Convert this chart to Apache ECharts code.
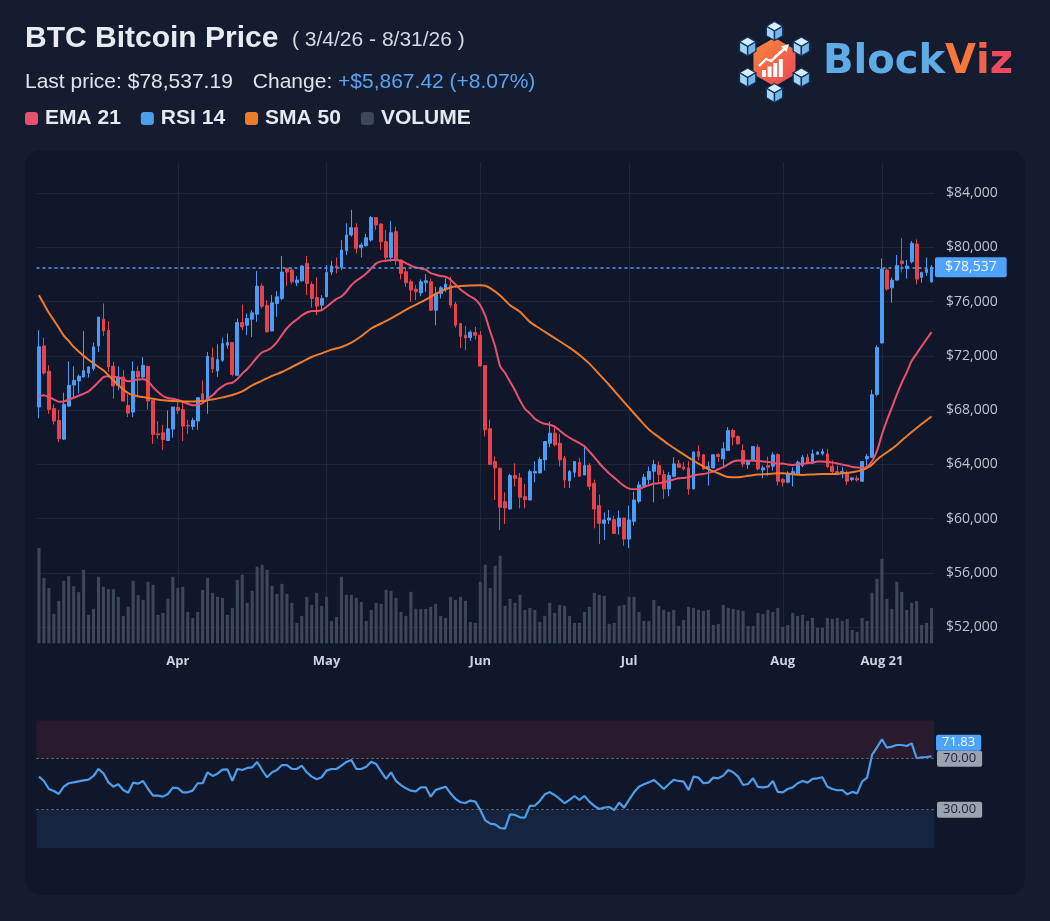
<!DOCTYPE html>
<html>
<head>
<meta charset="utf-8">
<script src="https://cdn.jsdelivr.net/npm/echarts@6/dist/echarts.min.js"></script>
<style>
html,body{margin:0;padding:0;background:#151c2f;}
#c{width:1050px;height:921px;}
</style>
</head>
<body>
<div id="c"></div>
<script>
// ---------- DATA ----------
const categories = [];
for (let i = 0; i < 181; i++) {
  const d = new Date(Date.UTC(2026, 2, 4 + i));
  categories.push(d.toISOString().slice(0, 10));
}
const tickIdx = [28, 58, 89, 119, 150, 170];
const tickText = ['Apr', 'May', 'Jun', 'Jul', 'Aug', 'Aug 21'];

const opens = [
68224,72735,70862,68125,67238,65858,68298,69851,70147,70442,
70738,71059,72735,74707,73894,71231,69826,70442,68347,67854,
70862,70442,71231,68717,66252,66326,65759,66597,68199,68052,
66880,66794,67189,69210,68717,71872,70886,71675,72784,72981,
70566,74460,74263,74707,75077,77147,75742,73844,75866,76235,
78429,78331,77394,77542,78824,77271,76309,75742,76358,78183,
78626,78528,79760,80919,81461,79982,80130,80549,82201,81732,
80426,79267,81165,79070,78207,77468,76926,76654,77394,77468,
75373,76605,76901,77221,75816,74387,73524,73351,73721,73524,
71281,66622,64206,63713,61248,60706,63171,62998,61618,61371,
63368,63368,64329,65562,66301,65562,64452,62801,63418,64132,
63220,63910,62604,60953,59646,59892,59917,59424,60040,58487,
59794,61273,62431,62875,63491,63910,63244,62184,63121,64033,
63787,63737,62184,64945,64699,63713,63737,64724,64403,65019,
66498,66055,65019,63984,64280,65266,63589,63910,63861,64724,
62875,62678,63294,63294,63910,64527,64082,64748,64773,64773,
63861,63467,63343,63368,62875,62973,62752,64403,64527,69161,
72957,78331,77024,77591,78996,78454,78947,80253,77788,78158,
77468];
const closes = [
72669.77,70738,68052,67189,65882,68421,69826,70196,70492,70911,
71182,72661,74855,73844,71182,69777,70442,68667,67780,70862,
70442,71305,68667,66203,66178,65833,66622,68224,67978,66819,
66830,67238,68914,68717,71971,71059,71724,72907,72981,70639,
74460,74140,74756,75175,77147,75668,73770,75915,76358,78183,
78183,77468,77591,78626,77345,76235,75668,76235,78158,78626,
78503,79810,80919,81461,79933,80179,80722,82201,81658,80426,
79267,81091,79070,78084,77394,76852,76728,77468,77542,75373,
76605,77024,77295,75742,74263,73450,73327,73746,73524,71256,
66548,63984,63737,60829,60780,63171,62973,61569,61396,63467,
63467,64354,65685,66301,65439,64329,62850,63467,64206,63121,
63910,62382,60706,59646,59892,60040,58906,60040,58487,59892,
61371,62480,63047,63467,63984,63244,62184,63171,64033,63787,
63664,62184,64896,64576,63664,63836,64699,64576,65143,66498,
66006,65513,64033,64280,65315,63664,63737,63787,64699,62752,
62678,63343,63467,64157,64527,64107,64773,64896,64945,63836,
63467,63294,63467,62752,62998,62850,64206,64576,69136,72612,
78404,76926,77591,78676,78824,78626,80303,77665,78158,78404,
78537.19];
const lows = [
67410,70615,67731,66942,65636,65800,68224,68963,69210,70400,
70393,70886,72291,73474,70812,68840,69457,68620,67484,67484,
69038,70319,68052,65513,65882,65069,65720,65956,67731,65710,
66252,66548,66548,68593,67731,70738,70442,71552,72538,70492,
70540,73894,73524,73401,74510,75496,73740,73810,74879,76112,
77147,77295,77147,77468,76482,75570,75003,75323,76309,77961,
78084,78331,79440,80796,79563,79267,80056,80426,81289,79810,
78947,78947,78700,77641,77098,75989,76112,76408,76728,75323,
74263,76235,76728,75545,74091,72587,72415,73105,73203,71230,
66055,63960,61371,59153,59597,60680,62357,60755,60755,61350,
62678,63343,63540,65266,65315,63836,62258,62258,63047,63100,
63200,62110,59276,58117,58413,59597,58880,58808,57994,57822,
59473,61124,62357,62505,61199,62678,61445,61643,63047,63737,
63540,61766,62160,64280,63589,62431,63664,64157,63737,65000,
65389,65463,63787,63664,64231,63540,62973,63121,63540,62431,
62357,62604,62357,63171,63787,64033,64033,64724,64650,63737,
63294,63171,62973,62480,62752,62727,62730,63910,64478,69013,
72907,76802,75915,77570,78158,77714,78824,77271,77394,77912,
77394];
const highs = [
73894,73351,71305,68421,68027,69284,71601,71231,70615,73820,
71231,72981,74900,75866,74559,71552,71231,70935,69161,71601,
71231,71897,71260,68740,67189,66917,67978,68250,68593,68593,
67288,67435,68960,70196,72291,72612,72858,73351,73647,73010,
74756,75792,75126,75373,78257,77345,76112,76482,76777,79366,
78528,78528,77887,78700,79366,77468,77789,76482,78700,79021,
79267,80549,81781,82768,81781,80352,80993,82324,82230,81760,
81289,81954,81535,79100,78528,77641,77221,77641,78035,77714,
77098,77147,77714,77838,75989,74410,74189,73894,74140,73820,
71300,67288,64576,63740,61938,63294,64082,63368,62554,63614,
64206,64527,65700,67164,66868,66252,64625,63589,64230,64452,
65389,64082,62875,61766,60460,60632,60213,60582,60060,60953,
61988,62727,63294,63836,64329,64206,63589,63417,64527,64329,
64157,64231,64970,65389,64773,64206,64773,64822,65636,66745,
66622,66129,65463,64329,65340,65463,63910,64576,64896,64822,
62998,63491,63787,64280,64699,64773,65069,64970,65143,65143,
64280,63910,63787,63540,63047,63171,64231,64773,69506,72784,
79193,78454,77789,79440,80672,79070,80475,80598,78207,79267,
78700];
// volume, thousand BTC
const volumes = [
28.5,19.5,16.5,8.8,12.7,18.7,20.1,17.1,15.3,22.0,
8.5,10.3,19.9,16.9,16.2,16.2,13.9,8.2,10.9,18.7,
14.4,13.0,18.4,17.5,8.5,9.1,13.3,19.9,16.6,16.9,
9.4,7.6,9.4,16.0,19.6,15.1,13.9,13.6,8.5,10.6,
19.0,20.5,12.1,15.7,22.9,23.5,22.0,17.2,14.8,17.8,
14.8,12.1,6.1,8.2,13.9,11.5,15.1,11.2,13.9,6.7,
7.9,19.9,14.5,14.5,13.6,12.4,6.7,10.0,12.1,11.8,
16.0,15.7,13.6,9.4,8.2,15.4,10.3,10.3,10.3,10.9,
11.8,8.2,7.6,13.9,13.0,13.9,12.7,6.4,6.1,18.4,
23.5,16.6,23.2,26.2,11.2,13.3,12.1,14.5,10.0,10.6,
10.0,6.4,8.2,12.1,9.1,11.5,11.2,8.2,6.1,6.1,
9.4,10.9,15.1,14.5,14.2,5.8,6.1,11.2,11.5,13.9,
13.9,9.4,6.7,6.7,13.0,11.2,10.0,9.4,10.0,5.2,
7.0,10.9,10.6,10.0,9.7,10.0,5.5,5.8,11.5,10.6,
10.3,10.0,9.7,5.2,5.2,9.1,8.8,10.0,9.4,10.6,
4.9,5.5,9.1,8.2,8.5,6.7,7.6,4.6,4.6,7.6,
7.3,7.6,6.7,7.3,4.0,3.4,7.6,6.7,15.1,19.3,
25.3,13.3,10.3,18.4,15.4,10.0,12.1,12.7,5.5,6.1,
10.6];
const ema21 = [
69010,69090,68960,68790,68620,68640,68770,68910,69060,69210,
69380,69700,70070,70440,70490,70440,70420,70270,70120,70200,
70250,70270,70120,69700,69330,69040,68890,68840,68740,68620,
68470,68350,68400,68520,68820,69090,69460,69750,69950,70020,
70300,70690,71030,71450,71900,72270,72410,72640,73010,73550,
74040,74410,74680,74980,75200,75320,75320,75370,75620,75920,
76210,76380,76750,77220,77540,77790,78080,78450,78820,78970,
79020,79070,79070,79000,78850,78650,78530,78450,78360,78110,
77990,77890,77840,77620,77270,76900,76630,76380,76160,75740,
74950,73800,72700,71230,70740,70100,69460,68720,68100,67760,
67360,67140,66990,66920,66790,66500,66200,65960,65760,65560,
65340,64950,64530,64080,63690,63320,63020,62700,62410,62210,
62160,62190,62330,62460,62580,62600,62680,62780,62880,62970,
63000,63050,63170,63250,63290,63370,63470,63640,63790,64010,
64210,64280,64280,64260,64260,64230,64210,64180,64130,64030,
64060,63980,63960,63980,64030,64080,64130,64210,64210,64180,
64130,64060,63980,63910,63810,63760,63740,63840,64230,64970,
66200,67240,68180,69140,70020,70790,71630,72170,72710,73230,
73750];
// [day index, value]
const sma50 = [
[0,76480],[1,75820],[2,75180],[3,74630],[4,74070],[5,73500],[6,73110],[7,72660],[8,72320],[9,72000],
[10,71720],[11,71450],[12,71180],[13,70940],[14,70570],[15,70200],[16,69850],[17,69510],[18,69260],[19,69090],
[21,68960],[23,68840],[25,68720],[27,68670],[29,68640],[31,68640],[33,68670],[35,68790],[37,68940],[39,69110],
[41,69380],[43,69830],[45,70170],[47,70520],[49,70810],[51,71180],[53,71550],[55,71920],[57,72190],[59,72460],
[61,72660],[63,72980],[65,73450],[67,74020],[69,74390],[71,74760],[73,75180],[75,75590],[77,75960],[79,76360],
[81,76750],[83,77050],[85,77150],[87,77200],[89,77220],[90,77170],[91,77000],[93,76460],[95,75740],[97,75250],
[99,74510],[101,74020],[103,73550],[105,73080],[107,72610],[109,72070],[111,71430],[113,70640],[115,69850],[117,69010],
[119,68180],[121,67360],[123,66570],[125,66010],[127,65460],[129,64970],[131,64500],[133,64060],[135,63640],[137,63340],
[139,63070],[141,63050],[143,63150],[145,63250],[147,63290],[149,63340],[150,63340],[152,63270],[154,63220],[156,63250],
[158,63290],[160,63290],[162,63340],[164,63420],[166,63570],[167,63740],[168,63980],[169,64330],[170,64630],[172,65140],
[174,65760],[176,66380],[178,66970],[180,67530]];
const rsi14 = [
55.9,52.5,46.2,44.6,42.3,48.0,50.7,51.4,52.2,53.0,
53.5,56.4,61.9,58.5,51.4,48.0,49.9,45.4,43.3,51.2,
50.4,52.5,46.2,41.0,41.0,40.2,42.3,47.3,47.0,43.6,
43.6,44.9,50.7,50.7,59.3,56.4,58.2,61.4,61.6,52.7,
61.9,61.1,62.7,63.2,67.4,61.1,55.4,59.3,61.1,65.0,
65.0,61.9,61.9,64.5,59.3,55.9,53.8,55.4,60.6,61.9,
61.9,64.5,67.4,69.0,61.9,61.9,63.7,67.6,65.8,59.8,
54.1,59.3,52.5,49.3,46.7,44.9,44.4,47.5,47.5,40.2,
45.4,46.7,48.0,42.8,38.4,35.8,35.2,37.1,36.3,29.7,
21.6,19.0,18.4,15.6,15.1,26.3,25.8,24.0,23.7,32.9,
33.1,36.8,42.0,43.6,41.5,38.4,35.0,37.6,40.7,37.6,
40.7,36.3,32.9,30.5,31.6,32.1,29.7,35.5,31.6,37.6,
43.6,48.0,49.9,51.4,53.3,49.9,46.2,49.9,53.3,52.5,
52.0,45.4,55.9,55.1,50.7,51.2,55.1,54.6,56.7,61.1,
59.3,55.9,49.3,50.1,54.6,47.8,47.5,48.0,52.5,43.9,
43.6,46.2,47.5,50.7,52.5,51.2,54.1,54.6,55.4,48.0,
46.2,45.2,45.4,42.0,43.9,42.8,52.0,55.1,72.9,78.9,
85.2,78.6,79.4,80.7,80.7,79.9,82.0,70.3,71.0,71.3,
71.83];
const rsiLevels = [70, 30];

// ---------- derived texts ----------
const n = closes.length;
const lastPrice = closes[n - 1];
const change = lastPrice - closes[0];
const pct = change / closes[0] * 100;
const money = (v, d) => '$' + v.toLocaleString('en-US', {minimumFractionDigits: d, maximumFractionDigits: d});
const shortDate = s => { const p = s.split('-'); return (+p[1]) + '/' + (+p[2]) + '/' + p[0].slice(2); };
const rangeText = '( ' + shortDate(categories[0]) + ' - ' + shortDate(categories[n - 1]) + ' )';
const changeText = (change >= 0 ? '+' : '-') + money(Math.abs(change), 2) + ' (' + (pct >= 0 ? '+' : '') + pct.toFixed(2) + '%)';
const lastRsi = rsi14[rsi14.length - 1];

const candleData = opens.map((o, i) => [o, closes[i], lows[i], highs[i]]);

const FONT = "'Liberation Sans', Arial, Helvetica, sans-serif";
const AX = "'Open Sans', 'Noto Sans', sans-serif";
const GRID_C = '#1e2638';
const UP = '#4a9df6', DOWN = '#e8434b';
const EMA_C = '#e9506d', SMA_C = '#ef7b2d', RSI_C = '#4d9de9', VOL_C = '#3d475a';
const PRICE_C = '#4da3ff';

// ---------- logo helpers (decoration) ----------
function cube(cx, cy, r) {
  const s = 0.866 * r, h = 0.5 * r;
  const T = [cx, cy - r], UR = [cx + s, cy - h], LR = [cx + s, cy + h], B = [cx, cy + r],
        LL = [cx - s, cy + h], UL = [cx - s, cy - h], C = [cx, cy];
  const st = {stroke: '#12335a', lineWidth: 1.4, lineJoin: 'round'};
  return [
    {type: 'polygon', z: 10, silent: true, shape: {points: [T, UR, C, UL]}, style: Object.assign({fill: '#d8eefd'}, st)},
    {type: 'polygon', z: 10, silent: true, shape: {points: [UL, C, B, LL]}, style: Object.assign({fill: '#a3d3f6'}, st)},
    {type: 'polygon', z: 10, silent: true, shape: {points: [C, UR, LR, B]}, style: Object.assign({fill: '#72b6ea'}, st)}
  ];
}
const hcx = 774.5, hcy = 62;
function hexPts(cx, cy, R) {
  const pts = [];
  for (let k = 0; k < 6; k++) {
    const a = (-90 + 60 * k) * Math.PI / 180;
    pts.push([cx + R * Math.cos(a), cy + R * Math.sin(a)]);
  }
  return pts;
}
const logo = [];
logo.push({type: 'polygon', z: 9, silent: true, shape: {points: hexPts(hcx, hcy, 26)},
  style: {fill: {type: 'linear', x: 0, y: 0, x2: 1, y2: 1, colorStops: [{offset: 0, color: '#f98e36'}, {offset: 1, color: '#ec3f5c'}]},
          stroke: '#0d1b33', lineWidth: 3}});
[[764, 7], [769.6, 10.5], [775.2, 14], [780.8, 18]].forEach(b => {
  logo.push({type: 'rect', z: 10, silent: true, shape: {x: b[0] - 2, y: 77 - b[1], width: 4, height: b[1]}, style: {fill: '#ffffff'}});
});
logo.push({type: 'polyline', z: 10, silent: true, shape: {points: [[759, 66], [766, 59], [771, 61], [784, 49]]},
  style: {stroke: '#ffffff', lineWidth: 2.4, fill: null, lineJoin: 'round'}});
logo.push({type: 'polygon', z: 10, silent: true, shape: {points: [[789, 44], [781, 46.5], [786.5, 52]]}, style: {fill: '#ffffff'}});
hexPts(hcx, hcy, 31).forEach(p => { cube(p[0], p[1], 9.5).forEach(e => logo.push(e)); });
const LF = {fontSize: 40, fontWeight: 'bold', fontFamily: "'DejaVu Sans', sans-serif"};
logo.push({type: 'text', z: 10, silent: true, x: 823, y: 63,
  style: {text: '{a|Block}{v|V}{i|i}{z|z}', verticalAlign: 'middle', align: 'left',
    rich: {
      a: Object.assign({fill: '#5eabe5'}, LF),
      v: Object.assign({fill: '#f6763c'}, LF),
      i: Object.assign({fill: '#f3604a'}, LF),
      z: Object.assign({fill: '#ef4a5f'}, LF)
    }}});

// ---------- chart ----------
const chart = echarts.init(document.getElementById('c'));
const splitColors = [];
for (let v = 52000; v <= 88000; v += 4000) splitColors.push(v === 88000 ? 'rgba(0,0,0,0)' : GRID_C);

const option = {
  backgroundColor: '#151c2f',
  animation: false,
  textStyle: {fontFamily: FONT},
  title: [
    {text: 'BTC Bitcoin Price', left: 25, top: 24, padding: 0,
     textStyle: {color: '#e8ebf1', fontSize: 30, fontWeight: 'bold', fontFamily: FONT}},
    {text: rangeText, left: 292, top: 30, padding: 0,
     textStyle: {color: '#d4d9e1', fontSize: 21, fontWeight: 'normal', fontFamily: FONT}},
    {text: '{l|Last price: ' + money(lastPrice, 2) + '}{m|Change: }{c|' + changeText + '}', left: 25, top: 72, padding: 0,
     textStyle: {fontSize: 21, fontWeight: 'normal', fontFamily: FONT,
       rich: {
         l: {color: '#dfe3ea', fontSize: 21, fontWeight: 'normal', fontFamily: FONT},
         m: {color: '#dfe3ea', fontSize: 21, fontWeight: 'normal', fontFamily: FONT, padding: [0, 0, 0, 20]},
         c: {color: '#5aa3f3', fontSize: 21, fontWeight: 'normal', fontFamily: FONT}
       }}}
  ],
  legend: {
    left: 25, top: 108, padding: 0, icon: 'roundRect', itemWidth: 13, itemHeight: 13, itemGap: 20,
    selectedMode: false,
    textStyle: {color: '#e6eaf0', fontSize: 21, fontWeight: 'bold', fontFamily: FONT, padding: [0, 0, 0, 2]},
    data: ['EMA 21', 'RSI 14', 'SMA 50', 'VOLUME']
  },
  graphic: [
    {type: 'rect', z: -100, silent: true, shape: {x: 25, y: 150, width: 1000, height: 745, r: 16}, style: {fill: '#10172a'}}
  ].concat(logo),
  grid: [
    {left: 36.5, right: 116, top: 139, bottom: 294, outerBoundsMode: 'none'},
    {left: 36.5, right: 116, top: 162, bottom: 277.7, outerBoundsMode: 'none'},
    {left: 36.5, right: 116, top: 720.4, bottom: 73.1, outerBoundsMode: 'none'}
  ],
  xAxis: [
    {type: 'category', gridIndex: 0, data: categories, show: false},
    {type: 'category', gridIndex: 1, data: categories,
     axisLine: {show: false}, axisTick: {show: false}, splitLine: {show: false},
     axisLabel: {
       interval: (idx) => tickIdx.indexOf(idx) >= 0,
       formatter: (val, idx) => { const k = tickIdx.indexOf(idx); return k >= 0 ? tickText[k] : ''; },
       color: '#cdd3dc', fontSize: 13, fontWeight: 'bold', fontFamily: AX, margin: 11
     }},
    {type: 'category', gridIndex: 2, data: categories, show: false}
  ],
  yAxis: [
    {type: 'value', gridIndex: 0, position: 'right', min: 52000, max: 88000, interval: 4000,
     axisLine: {show: false}, axisTick: {show: false},
     splitLine: {show: true, lineStyle: {color: splitColors, width: 1}},
     axisLabel: {color: '#bfc5cf', fontSize: 14, fontFamily: AX, margin: 12, showMaxLabel: false, showMinLabel: true,
       formatter: v => '$' + v.toLocaleString('en-US')}},
    {type: 'value', gridIndex: 1, min: 0, max: 144, show: false, splitLine: {show: false}},
    {type: 'value', gridIndex: 2, min: 0, max: 100, show: false, splitLine: {show: false}}
  ],
  series: [
    {name: 'VOLUME', type: 'bar', xAxisIndex: 1, yAxisIndex: 1, data: volumes, barWidth: '62%',
     color: VOL_C, itemStyle: {color: VOL_C}, silent: true,
     markLine: {z: 1, silent: true, symbol: ['none', 'none'], label: {show: false},
       lineStyle: {color: GRID_C, width: 1, type: 'solid'},
       emphasis: {disabled: true},
       data: tickIdx.map(i => ({xAxis: categories[i]}))}},
    {name: 'BTC', type: 'candlestick', xAxisIndex: 0, yAxisIndex: 0, data: candleData, barWidth: '66%',
     itemStyle: {color: UP, color0: DOWN, borderColor: UP, borderColor0: DOWN, borderWidth: 1},
     markLine: {silent: true, symbol: ['none', 'none'],
       lineStyle: {color: PRICE_C, width: 1.5, type: [3, 3], opacity: 1},
       label: {show: true, position: 'end', distance: 1, formatter: () => money(Math.round(lastPrice), 0),
         backgroundColor: PRICE_C, color: '#f1f6ff', padding: [3, 10, 3, 10], fontSize: 14, fontFamily: AX, borderRadius: 2},
       emphasis: {disabled: true},
       data: [{yAxis: lastPrice, lineStyle: {color: PRICE_C, width: 1.5, type: [3, 3]}}]}},
    {name: 'EMA 21', type: 'line', xAxisIndex: 0, yAxisIndex: 0, data: ema21, showSymbol: false, symbol: 'none',
     color: EMA_C, itemStyle: {color: EMA_C}, lineStyle: {color: EMA_C, width: 2}, smooth: 0.2, silent: true},
    {name: 'SMA 50', type: 'line', xAxisIndex: 0, yAxisIndex: 0, data: sma50, showSymbol: false, symbol: 'none',
     color: SMA_C, itemStyle: {color: SMA_C}, lineStyle: {color: SMA_C, width: 2}, smooth: 0.3, silent: true},
    {name: 'RSI 14', type: 'line', xAxisIndex: 2, yAxisIndex: 2, data: rsi14, showSymbol: false, symbol: 'none',
     color: RSI_C, itemStyle: {color: RSI_C}, lineStyle: {color: RSI_C, width: 2.2}, silent: true,
     markArea: {silent: true, data: [
       [{yAxis: 70, itemStyle: {color: '#291b2e'}}, {yAxis: 100}],
       [{yAxis: 0, itemStyle: {color: '#15243f'}}, {yAxis: 30}]
     ]},
     markLine: {silent: true, symbol: ['none', 'none'],
       lineStyle: {color: '#6e7686', width: 1, type: [2, 3]},
       label: {show: true, position: 'end', distance: 3, formatter: p => Number(p.value).toFixed(2),
         backgroundColor: '#9aa3b1', color: '#1e2432', padding: [2, 6, 1, 6], fontSize: 13, fontFamily: AX, borderRadius: 2},
       emphasis: {disabled: true},
       data: rsiLevels.map(v => ({yAxis: v}))},
     markPoint: {silent: true, symbol: 'circle', symbolSize: 1, itemStyle: {color: 'rgba(0,0,0,0)'},
       label: {show: true, position: 'right', distance: 4, offset: [0, -13.6], formatter: () => lastRsi.toFixed(2),
         backgroundColor: PRICE_C, color: '#f2f7ff', padding: [2, 6, 1, 6], fontSize: 13, fontFamily: AX, borderRadius: 2},
       data: [{coord: [categories[n - 1], lastRsi]}]}}
  ]
};
chart.setOption(option);
</script>
</body>
</html>
